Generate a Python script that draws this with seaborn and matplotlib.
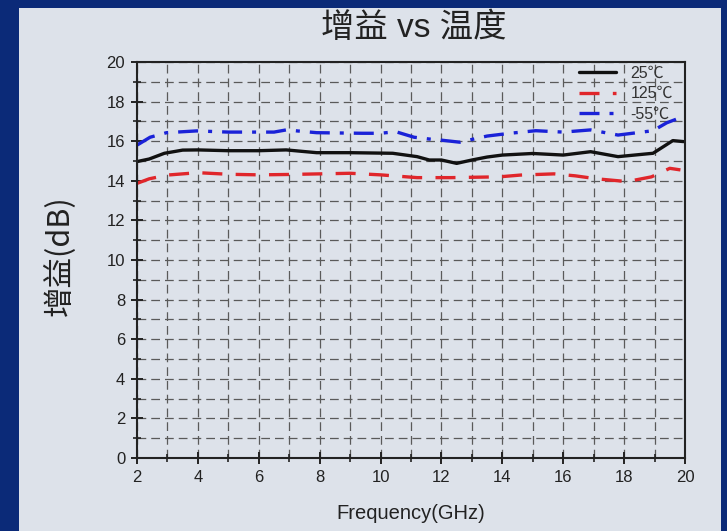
import numpy as np
import pandas as pd
import matplotlib
matplotlib.use("Agg")
import matplotlib.pyplot as plt
from matplotlib.patches import Rectangle
from matplotlib.lines import Line2D
from matplotlib.ticker import MultipleLocator
import seaborn as sns

# Gain vs frequency at three temperatures
freq_25 = [2.0, 2.4, 2.9, 3.5, 4.0, 5.0, 6.0, 6.9, 7.9, 9.0, 10.4, 11.2, 11.6, 12.0, 12.5, 13.0, 13.5, 14.0, 15.0, 16.0, 16.9, 17.8, 18.95, 19.6, 19.95]
gain_25 = [14.97, 15.1, 15.39, 15.55, 15.56, 15.52, 15.52, 15.56, 15.42, 15.42, 15.39, 15.22, 15.05, 15.05, 14.88, 15.05, 15.2, 15.3, 15.38, 15.3, 15.47, 15.22, 15.39, 16.03, 15.98]

freq_125 = [2.0, 2.4, 3.0, 4.0, 5.0, 6.0, 7.0, 8.0, 9.0, 10.0, 11.2, 12.3, 13.9, 14.6, 15.7, 16.4, 17.1, 18.1, 18.9, 19.5, 19.85]
gain_125 = [13.87, 14.1, 14.29, 14.41, 14.33, 14.3, 14.32, 14.35, 14.38, 14.3, 14.16, 14.16, 14.2, 14.29, 14.35, 14.25, 14.1, 13.96, 14.2, 14.63, 14.55]

freq_m55 = [2.0, 2.43, 2.97, 3.96, 5.0, 6.5, 6.9, 7.9, 9.4, 10.0, 10.5, 11.1, 11.6, 11.95, 12.6, 13.5, 14.25, 15.1, 16.0, 16.9, 17.8, 18.95, 19.4, 19.85]
gain_m55 = [15.8, 16.2, 16.43, 16.52, 16.46, 16.46, 16.57, 16.43, 16.4, 16.4, 16.48, 16.2, 16.11, 16.06, 15.95, 16.26, 16.4, 16.53, 16.46, 16.57, 16.31, 16.53, 16.93, 17.19]

labels = ["25℃", "125℃", "-55℃"]
x_ticks = [2, 4, 6, 8, 10, 12, 14, 16, 18, 20]
y_ticks = [0, 2, 4, 6, 8, 10, 12, 14, 16, 18, 20]

df = pd.concat([
    pd.DataFrame({"freq": freq_25, "gain": gain_25, "temp": labels[0]}),
    pd.DataFrame({"freq": freq_125, "gain": gain_125, "temp": labels[1]}),
    pd.DataFrame({"freq": freq_m55, "gain": gain_m55, "temp": labels[2]}),
])

sns.set_theme(style="ticks")
fonts = ["Liberation Sans", "Noto Sans CJK SC", "DejaVu Sans"]
plt.rcParams["font.family"] = fonts

fig = plt.figure(figsize=(7.27, 5.31), dpi=100)
fig.patch.set_facecolor("#0b2a78")
panel_color = "#dde2ea"
panel = Rectangle((19 / 727, 0), (721 - 19) / 727, (531 - 8) / 531,
                  transform=fig.transFigure, facecolor=panel_color,
                  edgecolor="none", zorder=-10)
fig.add_artist(panel)

ax = fig.add_axes([137 / 727, 1 - 458 / 531, (685 - 137) / 727, (458 - 62) / 531])
ax.set_zorder(1)
ax.set_facecolor(panel_color)

palette = {labels[0]: "#111111", labels[1]: "#e0262b", labels[2]: "#1a22d8"}
sns.lineplot(data=df, x="freq", y="gain", hue="temp", palette=palette,
             sort=False, estimator=None, linewidth=2.4, ax=ax, legend=False)

styles = [None, (6, 4), (6, 3, 1.2, 3)]
for line, ds in zip(ax.get_lines(), styles):
    if ds:
        line.set_dashes(ds)

handles = []
for lab, ds in zip(labels, styles):
    h = Line2D([], [], color=palette[lab], linewidth=2.4)
    if ds:
        h.set_dashes(ds)
    handles.append(h)
leg = ax.legend(handles, labels, loc="upper right", frameon=False,
                fontsize=11.5, handlelength=2.3, handletextpad=0.9,
                labelspacing=0.33, borderpad=0, borderaxespad=0,
                bbox_to_anchor=((673 - 137) / 548, (458 - 66) / 396))
for t in leg.get_texts():
    t.set_color("#333333")

ax.set_xlim(2, 20)
ax.set_ylim(0, 20)
ax.set_xticks(x_ticks)
ax.set_yticks(y_ticks)
ax.xaxis.set_minor_locator(MultipleLocator(1))
ax.yaxis.set_minor_locator(MultipleLocator(1))
ax.grid(True, which="both", color="#5a5a5a", linestyle=(0, (7, 4)), linewidth=0.9)
ax.set_axisbelow(True)
ax.tick_params(which="major", direction="inout", length=9, width=1.4, color="#222222",
               labelsize=12, labelcolor="#222222", pad=4)
ax.tick_params(which="minor", direction="inout", length=6, width=1.2, color="#222222")
for s in ax.spines.values():
    s.set_color("#222222")
    s.set_linewidth(1.5)

ax.set_xlabel("Frequency(GHz)", fontsize=14.5, color="#222222", labelpad=14)
ax.set_ylabel("增益(dB)", fontsize=22, color="#222222",
              family=["Noto Sans CJK SC", "DejaVu Sans"])
ax.yaxis.set_label_coords(-0.112, 0.51)
fig.text(414 / 727, 1 - 28 / 531, "增益 vs 温度", ha="center", va="center",
         fontsize=24, color="#222222", family=fonts)

fig.savefig("out.png", dpi=100, facecolor=fig.get_facecolor())
